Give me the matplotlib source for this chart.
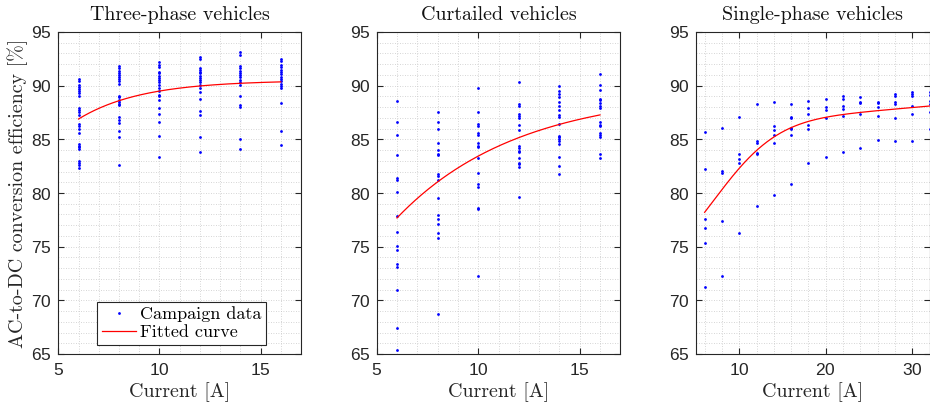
import numpy as np
import matplotlib
matplotlib.use("Agg")
import matplotlib.pyplot as plt
from matplotlib.ticker import MultipleLocator

# ---- campaign measurements: efficiency [%] at each charging current [A] ----
three_phase_currents = [6, 8, 10, 12, 14, 16]
three_phase_eff = [
    [90.6, 90.4, 90.1, 89.9, 89.7, 89.5, 89.3, 89.0, 87.9, 87.7, 87.5, 87.3,
     86.4, 86.2, 86.0, 85.6, 84.6, 84.4, 84.3, 84.1, 83.0, 82.8, 82.6, 82.3],
    [91.8, 91.6, 91.4, 91.2, 91.0, 90.8, 90.6, 90.4, 90.2, 89.0, 88.9, 88.7,
     88.5, 88.3, 88.2, 87.1, 86.8, 86.5, 85.8, 85.2, 82.6],
    [92.2, 91.9, 91.7, 91.3, 91.2, 90.9, 90.7, 90.5, 90.3, 90.1, 89.8, 89.5,
     89.1, 89.0, 88.7, 87.9, 87.4, 86.6, 85.3, 83.4],
    [92.7, 92.5, 91.6, 91.5, 91.3, 91.2, 90.9, 90.7, 90.5, 90.3, 90.1, 89.8,
     89.4, 88.8, 87.6, 87.3, 85.2, 83.8],
    [93.1, 92.9, 91.8, 91.6, 91.4, 91.2, 91.0, 90.8, 90.5, 90.3, 90.1, 89.0,
     88.2, 88.0, 85.0, 84.1],
    [92.5, 92.3, 91.9, 91.7, 91.5, 91.3, 91.1, 90.8, 90.6, 90.4, 90.2, 90.0,
     89.75, 88.4, 85.8, 84.5],
]

curtailed_currents = [6, 8, 10, 12, 14, 16]
curtailed_eff = [
    [88.6, 86.6, 85.4, 83.5, 81.4, 81.2, 80.05, 77.9, 76.4, 75.1, 74.7, 73.4,
     73.1, 71.0, 67.4, 65.4],
    [87.5, 86.6, 86.0, 84.7, 84.0, 83.6, 83.5, 81.8, 81.6, 81.2, 79.55, 77.95,
     77.55, 77.15, 76.3, 75.8, 68.7],
    [89.8, 87.5, 86.4, 86.2, 85.6, 85.4, 84.7, 84.4, 84.3, 83.3, 81.9, 80.8,
     80.6, 78.6, 78.5, 72.3],
    [90.3, 88.3, 88.1, 87.4, 87.2, 87.0, 86.3, 85.9, 84.4, 84.2, 83.9, 83.8,
     83.3, 82.8, 82.7, 82.4, 79.6],
    [90.0, 89.5, 89.2, 88.9, 88.5, 88.1, 87.7, 87.3, 87.1, 86.4, 85.3, 85.2,
     85.0, 84.8, 84.6, 83.4, 82.5, 81.8],
    [91.1, 90.1, 89.6, 88.8, 88.7, 88.4, 88.1, 87.9, 86.65, 86.3, 86.2, 85.6,
     85.4, 85.2, 83.6, 83.3],
]

single_phase_currents = [6, 8, 10, 12, 14, 16, 18, 20, 22, 24, 26, 28, 30, 32]
single_phase_eff = [
    [85.7, 82.2, 77.55, 76.7, 75.3, 71.2],
    [86.1, 82.05, 81.9, 77.35, 72.3],
    [87.05, 83.6, 83.15, 82.75, 76.3],
    [88.25, 84.85, 84.7, 83.75, 83.65, 78.8],
    [88.5, 86.2, 85.85, 85.4, 84.7, 79.85],
    [88.25, 87.1, 86.95, 86.1, 86.0, 85.45, 80.8],
    [88.6, 87.95, 87.35, 86.35, 85.95, 82.75],
    [88.75, 88.0, 87.75, 86.95, 83.35],
    [89.05, 88.75, 88.1, 87.85, 87.15, 83.8],
    [88.9, 88.5, 88.35, 87.4, 84.2],
    [88.5, 88.4, 88.0, 87.2, 84.95],
    [89.25, 89.05, 88.5, 88.3, 87.0, 84.8],
    [89.4, 89.25, 89.05, 88.15, 87.4, 84.85],
    [89.4, 89.1, 88.6, 88.25, 87.5, 86.0],
]

# ---- fitted model parameters: eff = a + d*I - b*exp(-c*I**k) ----
three_phase_fit = dict(a=90.5, b=24.6, c=0.32, d=0.0, k=1)
curtailed_fit = dict(a=89.5, b=32.2, c=0.167, d=0.0, k=1)
single_phase_fit = dict(a=85.87, b=11.59, c=0.01, d=0.0698, k=2)

titles = ["Three-phase vehicles", "Curtailed vehicles", "Single-phase vehicles"]
x_label = "Current [A]"
y_label = "AC-to-DC conversion efficiency [%]"
legend_labels = ["Campaign data", "Fitted curve"]


def model(i, a, b, c, d, k):
    return a + d * i - b * np.exp(-c * i ** k)


SERIF = ["cmr10", "DejaVu Serif"]
SANS = ["Liberation Sans", "DejaVu Sans"]
AXCOL = "#262626"
LABEL_SIZE = 14.4
plt.rcParams["axes.formatter.use_mathtext"] = True

fig = plt.figure(figsize=(9.30, 4.09), dpi=100)
H = 409.0
W = 930.0
top_px, bot_px = 32.0, 354.0
boxes = [(58.3, 301.0), (376.7, 620.3), (696.0, 929.6)]

panels = [
    (three_phase_currents, three_phase_eff, three_phase_fit, (5, 17), [5, 10, 15], 1),
    (curtailed_currents, curtailed_eff, curtailed_fit, (5, 17), [5, 10, 15], 1),
    (single_phase_currents, single_phase_eff, single_phase_fit, (5, 32), [10, 20, 30], 2),
]

for idx, ((l, r), (cur, eff, fit, xl, xt, xminor)) in enumerate(zip(boxes, panels)):
    ax = fig.add_axes([l / W, (H - bot_px) / H, (r - l) / W, (bot_px - top_px) / H])
    xs = np.concatenate([[c] * len(v) for c, v in zip(cur, eff)])
    ys = np.concatenate(eff)
    ax.plot(xs, ys, linestyle="none", marker="o", ms=2.0, mew=0,
            color=(0, 0, 1), label=legend_labels[0], zorder=3)
    xx = np.linspace(cur[0], cur[-1], 300)
    ax.plot(xx, model(xx, **fit), color=(1, 0, 0), lw=0.9,
            label=legend_labels[1], zorder=4)

    ax.set_xlim(*xl)
    ax.set_ylim(65, 95)
    ax.set_xticks(xt)
    ax.set_yticks(np.arange(65, 96, 5))
    ax.xaxis.set_minor_locator(MultipleLocator(xminor))
    ax.yaxis.set_minor_locator(MultipleLocator(1))
    ax.grid(which="both", color="#c8c8c8", linestyle=(0, (1, 2)), lw=0.6)
    ax.set_axisbelow(True)
    ax.tick_params(which="major", direction="in", length=4, width=0.8,
                   top=True, right=True, colors=AXCOL, labelsize=12.5)
    ax.tick_params(axis="x", which="major", pad=6)
    ax.tick_params(axis="y", which="major", pad=4.5)
    ax.tick_params(which="minor", length=0, top=True, right=True)
    for s in ax.spines.values():
        s.set_color(AXCOL)
        s.set_linewidth(0.8)
    for lab in ax.get_xticklabels() + ax.get_yticklabels():
        lab.set_family(SANS)

    ax.set_title(titles[idx], family=SERIF, fontsize=LABEL_SIZE, pad=8.5, color="#111111")
    ax.set_xlabel(x_label, family=SERIF, fontsize=LABEL_SIZE, labelpad=3, color=AXCOL)
    if idx == 0:
        ax.set_ylabel(y_label, family=SERIF, fontsize=LABEL_SIZE, labelpad=2.5, color=AXCOL)
        leg = ax.legend(loc="lower left", bbox_to_anchor=(0.161, 0.028),
                        borderaxespad=0, prop=dict(family=SERIF, size=13),
                        handlelength=1.9, handletextpad=0.2, borderpad=0.25,
                        labelspacing=0.15, fancybox=False, framealpha=1,
                        edgecolor=AXCOL, markerscale=1.0)
        leg.get_frame().set_linewidth(0.8)

fig.savefig("out.png", dpi=100)
